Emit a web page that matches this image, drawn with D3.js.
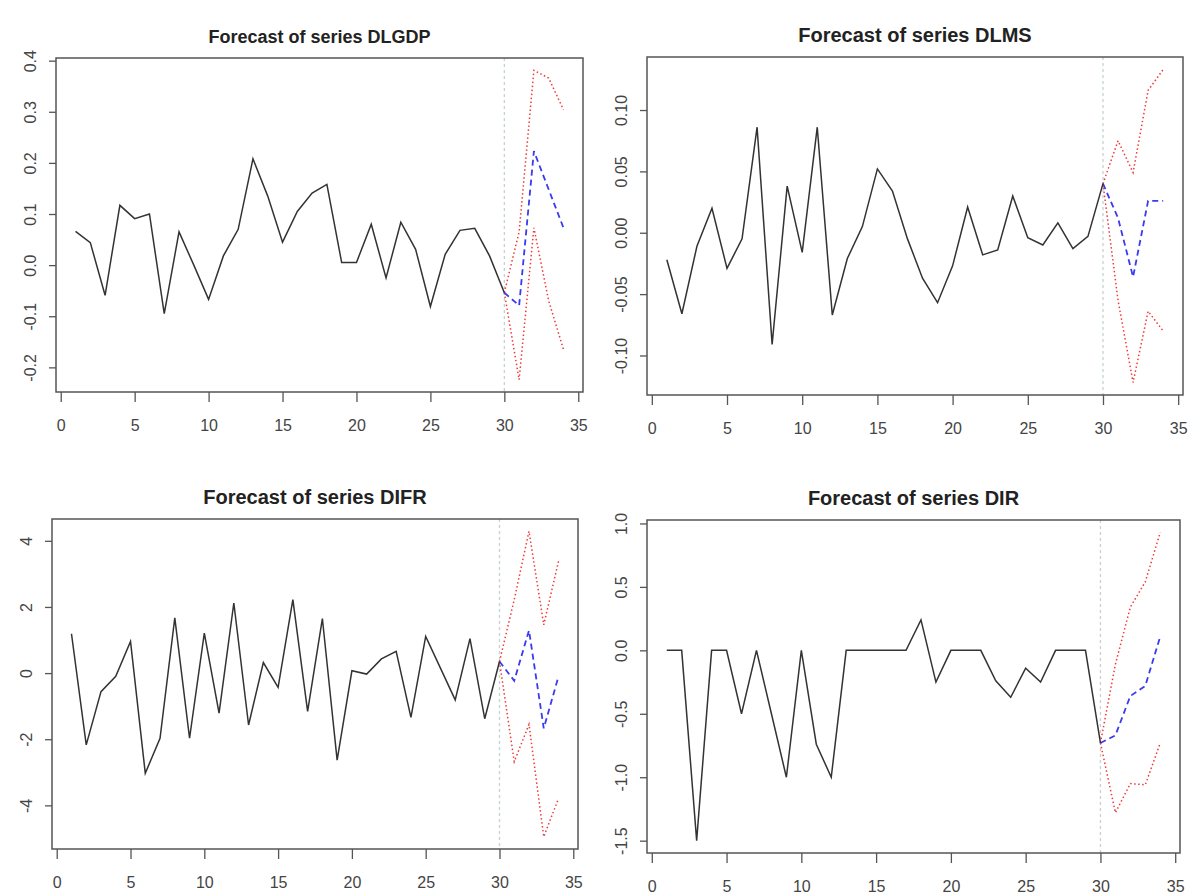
<!DOCTYPE html>
<html>
<head>
<meta charset="utf-8">
<script src="https://cdn.jsdelivr.net/npm/d3@7"></script>
<style>
  body { margin: 0; background: #fff; }
  text { font-family: "Liberation Sans", Arial, sans-serif; }
</style>
</head>
<body>
<svg id="chart" width="1189" height="894"></svg>
<script>
// observed series, t = 1..30
const dlgdp = [0.066, 0.044, -0.059, 0.117, 0.091, 0.100, -0.095, 0.065, 0.000, -0.067,
  0.018, 0.070, 0.208, 0.135, 0.045, 0.105, 0.141, 0.158, 0.005, 0.005,
  0.080, -0.025, 0.084, 0.031, -0.081, 0.021, 0.068, 0.072, 0.018, -0.054];
const dlms = [-0.022, -0.066, -0.011, 0.020, -0.029, -0.005, 0.086, -0.091, 0.038, -0.016,
  0.086, -0.067, -0.021, 0.005, 0.052, 0.034, -0.005, -0.037, -0.057, -0.027,
  0.021, -0.018, -0.014, 0.030, -0.004, -0.010, 0.008, -0.013, -0.003, 0.040];
const difr = [1.19, -2.17, -0.56, -0.10, 0.96, -3.03, -1.97, 1.67, -1.97, 1.21,
  -1.21, 2.12, -1.57, 0.32, -0.43, 2.22, -1.16, 1.65, -2.63, 0.07,
  -0.03, 0.43, 0.66, -1.34, 1.11, 0.15, -0.81, 1.04, -1.38, 0.35];
const dir = [0, 0, -1.5, 0, 0, -0.5, 0, -0.5, -1.0, 0,
  -0.74, -1.0, 0, 0, 0, 0, 0, 0.24, -0.25, 0,
  0, 0, -0.24, -0.37, -0.14, -0.25, 0, 0, 0, -0.73];

// forecasts, t = 31..34
const horizon = [31, 32, 33, 34];
const dlgdpFcst = [-0.079, 0.223, 0.148, 0.073];
const dlgdpLower = [-0.224, 0.073, -0.070, -0.165];
const dlgdpUpper = [0.065, 0.381, 0.366, 0.304];
const dlmsFcst = [0.012, -0.036, 0.026, 0.026];
const dlmsLower = [-0.055, -0.122, -0.064, -0.080];
const dlmsUpper = [0.075, 0.049, 0.116, 0.133];
const difrFcst = [-0.23, 1.29, -1.67, -0.10];
const difrLower = [-2.68, -1.55, -4.95, -3.79];
const difrUpper = [2.22, 4.29, 1.46, 3.38];
const dirFcst = [-0.67, -0.36, -0.28, 0.11];
const dirLower = [-1.28, -1.05, -1.06, -0.73];
const dirUpper = [-0.11, 0.34, 0.54, 0.93];

// tick labels
const xTicks = [0, 5, 10, 15, 20, 25, 30, 35];
const dlgdpTicks = [-0.2, -0.1, 0.0, 0.1, 0.2, 0.3, 0.4];
const dlmsTicks = [-0.10, -0.05, 0.00, 0.05, 0.10];
const difrTicks = [-4, -2, 0, 2, 4];
const dirTicks = [-1.5, -1.0, -0.5, 0.0, 0.5, 1.0];

const panels = [
  { title: 'Forecast of series DLGDP', obs: dlgdp, fcst: dlgdpFcst, lower: dlgdpLower, upper: dlgdpUpper,
    ticks: dlgdpTicks, fmt: '.1f', box: { left: 56, right: 583, top: 58, bottom: 392 }, titleSize: 18 },
  { title: 'Forecast of series DLMS', obs: dlms, fcst: dlmsFcst, lower: dlmsLower, upper: dlmsUpper,
    ticks: dlmsTicks, fmt: '.2f', box: { left: 647, right: 1183, top: 57, bottom: 395 }, titleSize: 20 },
  { title: 'Forecast of series DIFR', obs: difr, fcst: difrFcst, lower: difrLower, upper: difrUpper,
    ticks: difrTicks, fmt: 'd', box: { left: 52, right: 578, top: 519, bottom: 849 }, titleSize: 20 },
  { title: 'Forecast of series DIR', obs: dir, fcst: dirFcst, lower: dirLower, upper: dirUpper,
    ticks: dirTicks, fmt: '.1f', box: { left: 647, right: 1180, top: 520, bottom: 853 }, titleSize: 20 },
];

const svg = d3.select('#chart');
const minus = (s) => s.replace('−', '-');

panels.forEach((p) => {
  const b = p.box;
  const n = p.obs.length;
  const obsPts = p.obs.map((v, i) => [i + 1, v]);
  // forecast lines start from the last observation
  const join = (arr) => [[n, p.obs[n - 1]]].concat(arr.map((v, i) => [horizon[i], v]));

  // R style 4% extension of the data range
  const tMax = horizon[horizon.length - 1];
  const xPad = (tMax - 1) * 0.04;
  const allY = p.obs.concat(p.fcst, p.lower, p.upper);
  const [yMin, yMax] = d3.extent(allY);
  const yPad = (yMax - yMin) * 0.04;

  const x = d3.scaleLinear().domain([1 - xPad, tMax + xPad]).range([b.left, b.right]);
  const y = d3.scaleLinear().domain([yMin - yPad, yMax + yPad]).range([b.bottom, b.top]);

  const g = svg.append('g');

  // title
  g.append('text')
    .attr('x', (b.left + b.right) / 2)
    .attr('y', b.top - 15)
    .attr('text-anchor', 'middle')
    .style('font-size', p.titleSize + 'px')
    .style('font-weight', 'bold')
    .attr('fill', '#222')
    .text(p.title);

  // end of sample marker
  g.append('line')
    .attr('x1', x(n)).attr('x2', x(n))
    .attr('y1', b.top).attr('y2', b.bottom)
    .attr('stroke', '#c5d2d2')
    .attr('stroke-width', 1.3)
    .attr('stroke-dasharray', '3,3');

  const line = d3.line().x((d) => x(d[0])).y((d) => y(d[1]));

  g.append('path').datum(join(p.upper))
    .attr('d', line).attr('fill', 'none')
    .attr('stroke', '#f03a3a').attr('stroke-width', 1.5).attr('stroke-dasharray', '1.5,2.5');
  g.append('path').datum(join(p.lower))
    .attr('d', line).attr('fill', 'none')
    .attr('stroke', '#f03a3a').attr('stroke-width', 1.5).attr('stroke-dasharray', '1.5,2.5');
  g.append('path').datum(join(p.fcst))
    .attr('d', line).attr('fill', 'none')
    .attr('stroke', '#3a3af0').attr('stroke-width', 1.8).attr('stroke-dasharray', '6,4');
  g.append('path').datum(obsPts)
    .attr('d', line).attr('fill', 'none')
    .attr('stroke', '#333').attr('stroke-width', 1.5);

  // frame
  g.append('rect')
    .attr('x', b.left).attr('y', b.top)
    .attr('width', b.right - b.left).attr('height', b.bottom - b.top)
    .attr('fill', 'none').attr('stroke', '#555').attr('stroke-width', 1.5);

  // x axis
  const xa = g.append('g')
    .attr('transform', `translate(0,${b.bottom})`)
    .call(d3.axisBottom(x).tickValues(xTicks).tickSize(10).tickFormat(d3.format('d')));
  xa.select('.domain').remove();
  xa.selectAll('line').attr('stroke', '#555').attr('stroke-width', 1.3);
  xa.selectAll('text')
    .attr('y', 39).attr('dy', 0)
    .attr('fill', '#444')
    .style('font-size', '16px')
    .style('font-family', '"Liberation Sans", Arial, sans-serif');

  // y axis, labels rotated like R
  const fmt = d3.format(p.fmt);
  const ya = g.append('g')
    .attr('transform', `translate(${b.left},0)`)
    .call(d3.axisLeft(y).tickValues(p.ticks).tickSize(7).tickFormat((d) => minus(fmt(d))));
  ya.select('.domain').remove();
  ya.selectAll('line').attr('stroke', '#555').attr('stroke-width', 1.3);
  ya.selectAll('text')
    .attr('x', 0).attr('dy', 0)
    .attr('transform', 'translate(-20,0) rotate(-90)')
    .attr('text-anchor', 'middle')
    .attr('fill', '#444')
    .style('font-size', '16px')
    .style('font-family', '"Liberation Sans", Arial, sans-serif');
});
</script>
</body>
</html>
